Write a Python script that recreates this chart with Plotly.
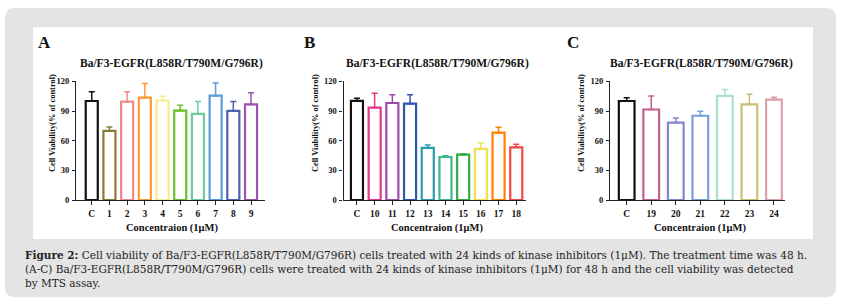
import plotly.graph_objects as go

W, H = 842, 307

# ---------------- data ----------------
cats_a = ["C", "1", "2", "3", "4", "5", "6", "7", "8", "9"]
vals_a = [100.2, 70.0, 99.5, 103.7, 100.7, 90.5, 87.2, 105.6, 90.2, 96.8]
err_a = [9.3, 4.0, 10.0, 14.3, 4.3, 5.3, 12.6, 12.7, 9.6, 11.8]
cols_a = ["#111111", "#8a7a3a", "#f08a8a", "#ff9a3a", "#f2ee90",
          "#6cbf2a", "#6ccc9a", "#5b9bd8", "#4f5fb0", "#9a55b0"]

cats_b = ["C", "10", "11", "12", "13", "14", "15", "16", "17", "18"]
vals_b = [100.4, 93.6, 98.2, 97.5, 52.8, 43.6, 46.0, 51.8, 68.2, 53.4]
err_b = [2.6, 14.4, 8.4, 9.0, 3.0, 1.2, 1.0, 5.9, 5.5, 3.0]
cols_b = ["#111111", "#e8368c", "#9b4ba8", "#2f55b0", "#2b9bb0",
          "#3db88a", "#33aa44", "#eee055", "#ff8000", "#ee4848"]

cats_c = ["C", "19", "20", "21", "22", "23", "24"]
vals_c = [100.2, 91.6, 78.4, 85.3, 105.3, 96.8, 101.7]
err_c = [3.2, 13.7, 4.6, 4.6, 6.6, 10.2, 2.4]
cols_c = ["#111111", "#c2608f", "#7f88cc", "#7a9ed8", "#a8e2cc",
          "#c8c070", "#dca0a8"]

y_ticks = [0, 30, 60, 90, 120]
panel_title = "Ba/F3-EGFR(L858R/T790M/G796R)"
x_title = "Concentraion (1μM)"
y_title = "Cell Viability(% of control)"
letters = ["A", "B", "C"]
caption = [
    "<b>Figure 2:</b> Cell viability of Ba/F3-EGFR(L858R/T790M/G796R) cells treated with 24 kinds of kinase inhibitors (1μM). The treatment time was 48 h.",
    "(A-C) Ba/F3-EGFR(L858R/T790M/G796R) cells were treated with 24 kinds of kinase inhibitors (1μM) for 48 h and the cell viability was detected",
    "by MTS assay.",
]

# ---------------- layout helpers ----------------
SERIF = "Liberation Serif"
CAP_FONT = "DejaVu Serif"


def px_x(x):
    return x / W


def px_y(y):
    return 1 - y / H


plot_top, plot_bot = 79, 201.7
panels = [
    dict(cats=cats_a, vals=vals_a, err=err_a, cols=cols_a,
         dom=(76, 265), rng=(-0.89, 9.79), bw=0.68,
         title_x=171, xt_x=172, yt_x=52, let_x=44),
    dict(cats=cats_b, vals=vals_b, err=err_b, cols=cols_b,
         dom=(343.5, 526), rng=(-0.76, 9.55), bw=0.68,
         title_x=437.5, xt_x=436.7, yt_x=315, let_x=309),
    dict(cats=cats_c, vals=vals_c, err=err_c, cols=cols_c,
         dom=(610, 785), rng=(-0.68, 6.45), bw=0.64,
         title_x=701.7, xt_x=700, yt_x=581, let_x=573),
]

fig = go.Figure()
annotations = []
layout_axes = {}

for i, p in enumerate(panels):
    n = "" if i == 0 else str(i + 1)
    xa, ya = "x" + n, "y" + n
    for c, v, e, col in zip(p["cats"], p["vals"], p["err"], p["cols"]):
        fig.add_trace(go.Bar(
            x=[c], y=[v], xaxis=xa, yaxis=ya, width=p["bw"],
            marker=dict(color="white", line=dict(color=col, width=2.2)),
            error_y=dict(type="data", array=[e], arrayminus=[0], symmetric=False,
                         color=col, thickness=1.5, width=3),
            showlegend=False, hoverinfo="skip",
        ))
    layout_axes["xaxis" + n] = dict(
        domain=[px_x(p["dom"][0]), px_x(p["dom"][1])], anchor=ya,
        type="category", categoryorder="array", categoryarray=p["cats"],
        range=list(p["rng"]), showline=True, linecolor="#222", linewidth=1.3,
        ticks="outside", ticklen=4, tickwidth=1.2, tickcolor="#222",
        tickfont=dict(family=SERIF, size=9.5, color="#111", weight="bold"),
        showgrid=False, zeroline=False, fixedrange=True,
    )
    layout_axes["yaxis" + n] = dict(
        domain=[px_y(plot_bot), px_y(plot_top)], anchor=xa,
        range=[0, 120], tickvals=y_ticks, ticktext=[str(t) for t in y_ticks],
        showline=True, linecolor="#222", linewidth=1.3,
        ticks="outside", ticklen=3, tickwidth=1.2, tickcolor="#222",
        ticklabelstandoff=1,
        tickfont=dict(family=SERIF, size=8.5, color="#111", weight="bold"),
        showgrid=False, zeroline=False, fixedrange=True,
    )
    annotations += [
        dict(text="<b>" + panel_title + "</b>", x=px_x(p["title_x"]), y=px_y(60),
             xref="paper", yref="paper", showarrow=False, xanchor="center", yanchor="middle",
             font=dict(family=SERIF, size=11.5, color="#111")),
        dict(text="<b>" + x_title + "</b>", x=px_x(p["xt_x"]), y=px_y(231),
             xref="paper", yref="paper", showarrow=False, xanchor="center", yanchor="middle",
             font=dict(family=SERIF, size=10.5, color="#111")),
        dict(text="<b>" + y_title + "</b>", x=px_x(p["yt_x"]), y=px_y(122),
             xref="paper", yref="paper", showarrow=False, xanchor="center", yanchor="middle",
             textangle=-90, font=dict(family=SERIF, size=8.4, color="#111")),
        dict(text="<b>" + letters[i] + "</b>", x=px_x(p["let_x"]), y=px_y(39),
             xref="paper", yref="paper", showarrow=False, xanchor="center", yanchor="middle",
             font=dict(family=SERIF, size=17, color="#111")),
    ]

for k, line in enumerate(caption):
    annotations.append(dict(
        text=line, x=px_x(23), y=px_y(258 + 14.5 * k), xref="paper", yref="paper",
        showarrow=False, xanchor="left", yanchor="middle",
        font=dict(family=CAP_FONT, size=10.5, color="#222")))


# background: rounded gray box and white chart panel
def P(x, y):
    return f"{px_x(x):.5f},{px_y(y):.5f}"


x0, y0, x1, y1, r = 5, 3, 836, 302, 10
path = (f"M {P(x0 + r, y0)} L {P(x1 - r, y0)} Q {P(x1, y0)} {P(x1, y0 + r)} "
        f"L {P(x1, y1 - r)} Q {P(x1, y1)} {P(x1 - r, y1)} "
        f"L {P(x0 + r, y1)} Q {P(x0, y1)} {P(x0, y1 - r)} "
        f"L {P(x0, y0 + r)} Q {P(x0, y0)} {P(x0 + r, y0)} Z")
shapes = [
    dict(type="path", path=path, xref="paper", yref="paper", layer="below",
         fillcolor="#e4e4e4", line=dict(width=0)),
    dict(type="rect", x0=px_x(33), x1=px_x(813), y0=px_y(242), y1=px_y(23),
         xref="paper", yref="paper", layer="below",
         fillcolor="white", line=dict(width=0)),
]

fig.update_layout(
    width=W, height=H, autosize=False,
    margin=dict(l=0, r=0, t=0, b=0),
    paper_bgcolor="white", plot_bgcolor="rgba(0,0,0,0)",
    barmode="overlay", showlegend=False,
    shapes=shapes, annotations=annotations,
    **layout_axes,
)

fig.write_html("out.html", config={"displayModeBar": False})
